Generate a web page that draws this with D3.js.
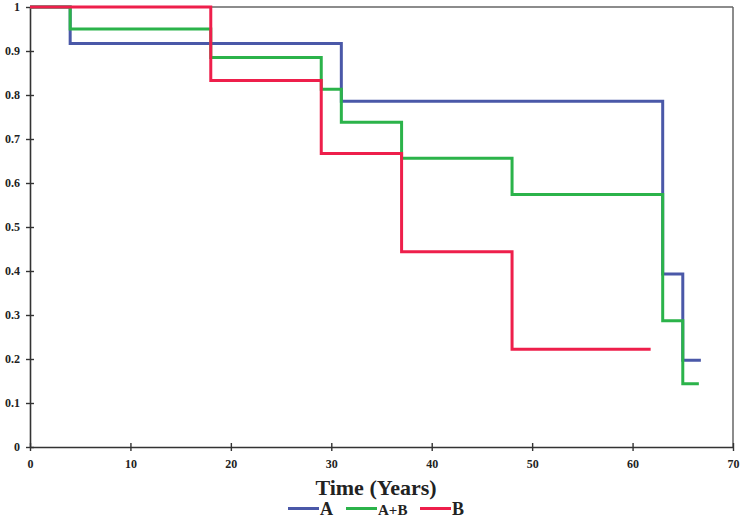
<!DOCTYPE html>
<html>
<head>
<meta charset="utf-8">
<script src="https://cdn.jsdelivr.net/npm/d3@7"></script>
<style>
  html, body { margin: 0; padding: 0; background: #fff; }
  svg { display: block; }
  text { font-family: "Liberation Serif", "Times New Roman", serif; font-weight: bold; }
</style>
</head>
<body>
<svg id="chart" width="745" height="520"></svg>
<script>
// Data (Kaplan-Meier step curves)
const seriesNames = ["A", "A+B", "B"];
const timesA = [0, 4, 31, 63, 65, 66.8];
const survA  = [1, 0.917, 0.786, 0.393, 0.197, 0.197];
const timesAB = [0, 4, 18, 29, 31, 37, 48, 63, 65, 66.6];
const survAB  = [1, 0.95, 0.885, 0.813, 0.738, 0.656, 0.574, 0.287, 0.144, 0.144];
const timesB = [0, 18, 29, 37, 48, 61.8];
const survB  = [1, 0.833, 0.667, 0.444, 0.222, 0.222];
const xTicks = [0, 10, 20, 30, 40, 50, 60, 70];
const yTicks = [0, 0.1, 0.2, 0.3, 0.4, 0.5, 0.6, 0.7, 0.8, 0.9, 1];
const xTitle = "Time (Years)";

const colors = { "A": "#4a58a8", "A+B": "#2bb34a", "B": "#ee1f4b" };

const svg = d3.select("#chart");
const x = d3.scaleLinear().domain([0, 70]).range([30, 733]);
const y = d3.scaleLinear().domain([0, 1]).range([447, 7]);

// frame (top and right)
svg.append("line").attr("x1", x(0)).attr("x2", x(70)).attr("y1", y(1)).attr("y2", y(1))
  .attr("stroke", "#666").attr("stroke-width", 1.5);
svg.append("line").attr("x1", x(70)).attr("x2", x(70)).attr("y1", y(1)).attr("y2", y(0))
  .attr("stroke", "#666").attr("stroke-width", 1.5);

// axes
const xAxis = d3.axisBottom(x).tickValues(xTicks).tickFormat(d3.format("d")).tickSize(4).tickSizeOuter(0);
const gx = svg.append("g").attr("transform", `translate(0,${y(0)})`).call(xAxis);
gx.select(".domain").attr("stroke", "#333").attr("stroke-width", 1.6);
gx.selectAll(".tick line").attr("stroke", "#333").attr("stroke-width", 1.4).attr("y1", -4).attr("y2", 4);
gx.selectAll(".tick text").attr("y", 12).attr("dy", "0.71em").attr("font-size", 12)
  .attr("font-family", "Liberation Serif, serif").attr("font-weight", "bold").attr("fill", "#222");

const yAxis = d3.axisLeft(y).tickValues(yTicks).tickFormat(d => d === 0 || d === 1 ? String(d) : d3.format(".1f")(d)).tickSize(4).tickSizeOuter(0);
const gy = svg.append("g").attr("transform", `translate(${x(0)},0)`).call(yAxis);
gy.select(".domain").attr("stroke", "#333").attr("stroke-width", 1.6);
gy.selectAll(".tick line").attr("stroke", "#333").attr("stroke-width", 1.4).attr("x1", -4).attr("x2", 4);
gy.selectAll(".tick text").attr("x", -10).attr("font-size", 12)
  .attr("font-family", "Liberation Serif, serif").attr("font-weight", "bold").attr("fill", "#222");

// step lines
const line = d3.line().x(d => x(d[0])).y(d => y(d[1])).curve(d3.curveStepAfter);
const series = [
  { name: "A", t: timesA, s: survA },
  { name: "A+B", t: timesAB, s: survAB },
  { name: "B", t: timesB, s: survB }
];
series.forEach(sr => {
  svg.append("path")
    .datum(sr.t.map((t, i) => [t, sr.s[i]]))
    .attr("d", line)
    .attr("fill", "none")
    .attr("stroke", colors[sr.name])
    .attr("stroke-width", 3);
});

// x title
svg.append("text").attr("x", 376).attr("y", 495).attr("text-anchor", "middle")
  .attr("font-size", 22).attr("fill", "#222").text(xTitle);

// legend
const legendItems = [
  { name: "A", x1: 288, x2: 319, fs: 18 },
  { name: "A+B", x1: 346, x2: 377, fs: 15 },
  { name: "B", x1: 420, x2: 451, fs: 18 }
];
legendItems.forEach(li => {
  svg.append("line").attr("x1", li.x1).attr("x2", li.x2).attr("y1", 508.5).attr("y2", 508.5)
    .attr("stroke", colors[li.name]).attr("stroke-width", 3);
  svg.append("text").attr("x", li.x2 + 1).attr("y", 515).attr("font-size", li.fs)
    .attr("fill", "#222").text(li.name);
});
</script>
</body>
</html>
